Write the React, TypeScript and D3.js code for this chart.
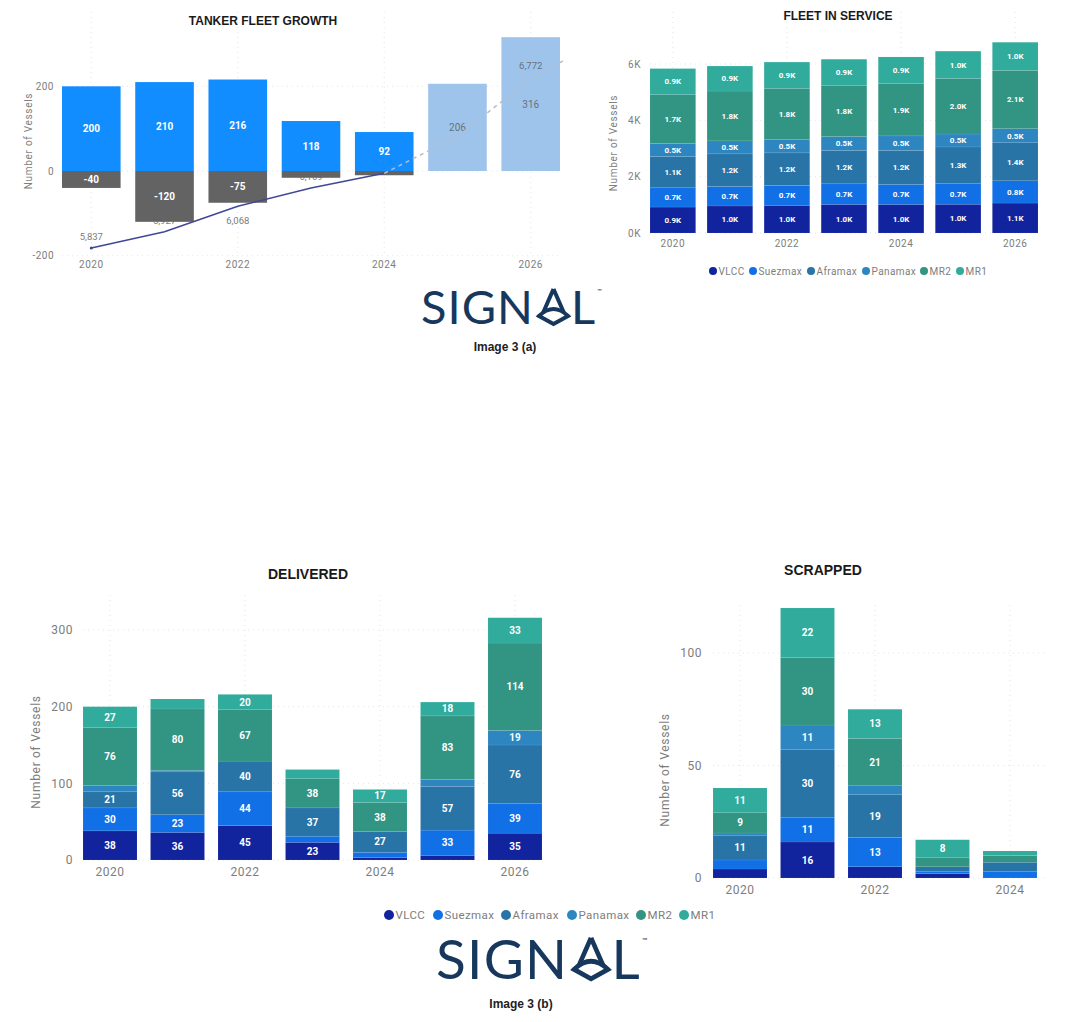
import * as d3 from "d3";
import { useEffect, useRef } from "react";

const years = [2020, 2021, 2022, 2023, 2024, 2025, 2026];
const tickYears = [2020, 2022, 2024, 2026];
const shipTypes = ["VLCC", "Suezmax", "Aframax", "Panamax", "MR2", "MR1"];
const shipColors = ["#12239e", "#1170e6", "#2874a6", "#2e86c1", "#329482", "#30ab9c"];

// tanker fleet growth
const growthDelivered = [200, 210, 216, 118, 92, 206, 316];
const growthScrapped = [-40, -120, -75, -16, -10, 0, 0];
const fleetYears = [2020, 2021, 2022, 2023, 2024, 2025, 2026, 2027];
const fleetTotal = [5837, 5927, 6068, 6169, 6250, 6456, 6772, 7000];

// one row per ship type, one value per year
const fleetVLCC = [921, 960, 980, 1015, 1015, 1020, 1063];
const fleetSuezmax = [685, 690, 708, 732, 708, 745, 791];
const fleetAframax = [1110, 1160, 1157, 1180, 1204, 1290, 1350];
const fleetPanamax = [460, 460, 472, 496, 520, 460, 500];
const fleetMR2 = [1735, 1770, 1818, 1806, 1855, 1970, 2066];
const fleetMR1 = [926, 887, 933, 940, 948, 971, 1002];

const deliveredVLCC = [38, 36, 45, 23, 3, 6, 35];
const deliveredSuezmax = [30, 23, 44, 8, 7, 33, 39];
const deliveredAframax = [21, 56, 40, 37, 27, 57, 76];
const deliveredPanamax = [8, 2, 0, 0, 0, 9, 19];
const deliveredMR2 = [76, 80, 67, 38, 38, 83, 114];
const deliveredMR1 = [27, 13, 20, 12, 17, 18, 33];

const scrappedYears = [2020, 2021, 2022, 2023, 2024];
const scrappedVLCC = [4, 16, 5, 2, 0];
const scrappedSuezmax = [4, 11, 13, 1, 3];
const scrappedAframax = [11, 30, 19, 2, 4];
const scrappedPanamax = [1, 11, 4, 0, 0];
const scrappedMR2 = [9, 30, 21, 4, 3];
const scrappedMR1 = [11, 22, 13, 8, 2];

const AXIS_FONT = "Roboto, sans-serif";
const AXIS_COLOR = "#7d7d7d";
const GRID_COLOR = "#e4e4e4";

type AxesProps = {
  x: d3.ScaleBand<number>;
  y: d3.ScaleLinear<number, number>;
  xTicks: number[];
  yTicks: number[];
  yFormat?: (d: number) => string;
  yAxisX: number;
  xAxisY: number;
  fontSize: number;
  gridTop: number;
  gridBottom: number;
  gridLeft: number;
  gridRight: number;
};

const Axes = ({ x, y, xTicks, yTicks, yFormat, yAxisX, xAxisY, fontSize, gridTop, gridBottom, gridLeft, gridRight }: AxesProps) => {
  const ref = useRef<SVGGElement>(null);
  useEffect(() => {
    const g = d3.select(ref.current);
    g.selectAll("*").remove();

    const bottom = d3.axisBottom(x).tickValues(xTicks).tickSize(0).tickPadding(0).tickFormat((d) => String(d));
    const left = d3.axisLeft(y).tickValues(yTicks).tickSize(0).tickPadding(0).tickFormat((d) => (yFormat ? yFormat(+d) : String(d)));
    g.append("g").attr("transform", `translate(0,${xAxisY})`).call(bottom);
    g.append("g").attr("transform", `translate(${yAxisX},0)`).call(left);

    g.selectAll(".domain").remove();
    g.selectAll("text")
      .attr("fill", AXIS_COLOR)
      .style("font-family", AXIS_FONT)
      .style("font-size", fontSize + "px")
      .style("letter-spacing", "0.5px");
  }, [x, y, xTicks, yTicks, yFormat, yAxisX, xAxisY, fontSize]);

  return (
    <g>
      {xTicks.map((t) => (
        <line key={t} x1={x(t)! + x.bandwidth() / 2} x2={x(t)! + x.bandwidth() / 2} y1={gridTop} y2={gridBottom}
          stroke={GRID_COLOR} strokeDasharray="1 4" />
      ))}
      {yTicks.map((t) => (
        <line key={t} x1={gridLeft} x2={gridRight} y1={y(t)} y2={y(t)} stroke={GRID_COLOR} strokeDasharray="1 4" />
      ))}
      <g ref={ref} />
    </g>
  );
};

type StackProps = {
  title: string;
  titleX: number;
  titleY: number;
  titleSize: number;
  cats: number[];
  rows: number[][];
  xRange: [number, number];
  yRange: [number, number];
  yDomain: [number, number];
  xTicks: number[];
  yTicks: number[];
  yFormat?: (d: number) => string;
  labelFormat?: (d: number) => string;
  labelSize: number;
  axisSize: number;
  yAxisX: number;
  xAxisY: number;
  yTitleX: number;
  yTitleY: number;
  gridTop: number;
  gridRight: number;
};

const StackedChart = (p: StackProps) => {
  const x = d3.scaleBand<number>().domain(p.cats).range(p.xRange).paddingInner(0.2);
  const y = d3.scaleLinear().domain(p.yDomain).range(p.yRange);
  const table = p.cats.map((c, i) => {
    const row: Record<string, number> = { year: c };
    shipTypes.forEach((s, j) => (row[s] = p.rows[j][i]));
    return row;
  });
  const series = d3.stack<Record<string, number>>().keys(shipTypes)(table);
  return (
    <g>
      <text x={p.titleX} y={p.titleY} textAnchor="middle" fontFamily="Liberation Sans" fontWeight="bold" fontSize={p.titleSize} fill="#1a1a1a">
        {p.title}
      </text>
      <Axes x={x} y={y} xTicks={p.xTicks} yTicks={p.yTicks} yFormat={p.yFormat} yAxisX={p.yAxisX} xAxisY={p.xAxisY}
        fontSize={p.axisSize} gridTop={p.gridTop} gridBottom={p.yRange[0]} gridLeft={p.xRange[0]} gridRight={p.gridRight} />
      <text transform={`translate(${p.yTitleX},${p.yTitleY}) rotate(-90)`} textAnchor="middle" fontFamily={AXIS_FONT}
        fontSize={p.axisSize} fill={AXIS_COLOR} letterSpacing={0.7}>
        Number of Vessels
      </text>
      {series.map((s, j) =>
        s.map((d, i) => {
          const h = y(d[0]) - y(d[1]);
          if (h <= 0) return null;
          const year = p.cats[i];
          const value = d[1] - d[0];
          return (
            <g key={year}>
              <rect x={x(year)} y={y(d[1])} width={x.bandwidth()} height={h} fill={shipColors[j]} stroke="#ffffff" strokeOpacity={0.12} strokeWidth={0.6} />
              {h >= 12 && (
                <text x={x(year)! + x.bandwidth() / 2} y={y(d[1]) + h / 2} dy="0.35em" textAnchor="middle"
                  fontFamily={AXIS_FONT} fontWeight={700} fontSize={p.labelSize} fill="#ffffff">
                  {p.labelFormat ? p.labelFormat(value) : value}
                </text>
              )}
            </g>
          );
        })
      )}
    </g>
  );
};

const GrowthChart = () => {
  const x = d3.scaleBand<number>().domain(years).range([62, 560]).paddingInner(0.2);
  const y = d3.scaleLinear().domain([-200, 200]).range([255.7, 86.3]);
  // fleet total sits on its own hidden axis
  const yFleet = d3.scaleLinear().domain([5837, 6772]).range([248, 79]);
  const xFleet = d3.scaleBand<number>().domain(fleetYears).range([62, 560 + x.step()]).paddingInner(0.2);
  const points = fleetYears.map((yr, i) => ({ yr, v: fleetTotal[i] }));
  const line = d3.line<{ yr: number; v: number }>()
    .x((d) => xFleet(d.yr)! + xFleet.bandwidth() / 2)
    .y((d) => yFleet(d.v));
  const solid = points.filter((d) => d.yr <= 2024);
  const dashed = points.filter((d) => d.yr >= 2024);
  const cx = (yr: number) => x(yr)! + x.bandwidth() / 2;
  return (
    <g>
      <text x={263} y={25} textAnchor="middle" fontFamily="Liberation Sans" fontWeight="bold" fontSize={12} fill="#1a1a1a">
        TANKER FLEET GROWTH
      </text>
      <Axes x={x} y={y} xTicks={tickYears} yTicks={[-200, 0, 200]} yAxisX={54} xAxisY={261} fontSize={10}
        gridTop={12} gridBottom={255} gridLeft={62} gridRight={560} />
      <text transform="translate(32,141) rotate(-90)" textAnchor="middle" fontFamily={AXIS_FONT} fontSize={10} fill={AXIS_COLOR} letterSpacing={0.7}>
        Number of Vessels
      </text>

      {/* labels go under the bars, a few of them get covered like in the original */}
      {points.filter((d) => d.yr <= 2024).map((d) => (
        <text key={d.yr} x={cx(d.yr)} y={yFleet(d.v) + (d.yr === 2022 ? 18 : -8)} textAnchor="middle" fontFamily={AXIS_FONT} fontSize={9.5} fill={AXIS_COLOR}>
          {d3.format(",")(d.v)}
        </text>
      ))}

      {years.map((yr, i) => {
        const future = yr > 2024;
        return (
          <g key={yr}>
            <rect x={x(yr)} y={y(growthDelivered[i])} width={x.bandwidth()} height={y(0) - y(growthDelivered[i])}
              fill={future ? "#9fc4ec" : "#0a89ff"} fillOpacity={future ? 1 : 0.97} />
            <text x={cx(yr)} y={(y(growthDelivered[i]) + y(0)) / 2} dy="0.35em" textAnchor="middle" fontFamily={AXIS_FONT}
              fontWeight={future ? 400 : 700} fontSize={10} fill={future ? "#66727f" : "#ffffff"}>
              {growthDelivered[i]}
            </text>
            {growthScrapped[i] < 0 && (
              <rect x={x(yr)} y={y(0)} width={x.bandwidth()} height={y(growthScrapped[i]) - y(0)} fill="#636363" />
            )}
            {growthScrapped[i] <= -40 && (
              <text x={cx(yr)} y={(y(growthScrapped[i]) + y(0)) / 2} dy="0.35em" textAnchor="middle" fontFamily={AXIS_FONT}
                fontWeight={700} fontSize={10} fill="#ffffff">
                {growthScrapped[i]}
              </text>
            )}
          </g>
        );
      })}

      <clipPath id="fleet-clip">
        <rect x={50} y={10} width={513} height={250} />
      </clipPath>
      <g clipPath="url(#fleet-clip)">
        <path d={line(solid) || ""} fill="none" stroke="#3f4796" strokeWidth={1.5} />
        <path d={line(dashed) || ""} fill="none" stroke="#b4bdc9" strokeWidth={1.5} strokeDasharray="4 4" />
      </g>
      <circle cx={cx(2020)} cy={yFleet(5837)} r={1.5} fill="#3f4796" />
      <text x={cx(2026)} y={yFleet(6772) - 10} textAnchor="middle" fontFamily={AXIS_FONT} fontSize={9.5} fill="#66727f">
        {d3.format(",")(6772)}
      </text>
    </g>
  );
};

const Legend = ({ y, offsets, size, r }: { y: number; offsets: number[]; size: number; r: number }) => (
  <g>
    {shipTypes.map((s, i) => (
      <g key={s}>
        <circle cx={offsets[i]} cy={y} r={r} fill={shipColors[i]} />
        <text x={offsets[i] + r + 1.5} y={y} dy="0.35em" fontFamily={AXIS_FONT} fontSize={size} fill={AXIS_COLOR} letterSpacing={0.4}>
          {s}
        </text>
      </g>
    ))}
  </g>
);

const Logo = ({ x, y, k }: { x: number; y: number; k: number }) => (
  <g transform={`translate(${x},${y}) scale(${k})`} fill="#17385c">
    <text x={0} y={34} fontFamily="Lato" fontSize={47} textLength={112} lengthAdjust="spacing">SIGN</text>
    <g fill="none" stroke="#17385c" strokeWidth={4} strokeLinejoin="miter">
      <path d="M132.5 -1 L122 23 M132.5 -1 L143 23" />
      <path d="M118 26 Q132.5 12 147 26 L132.5 34 Z" />
    </g>
    <text x={150} y={34} fontFamily="Lato" fontSize={47}>L</text>
    <text x={176} y={3} fontFamily="Lato" fontSize={6}>™</text>
  </g>
);

export default function App() {
  return (
    <svg width={1080} height={1022} style={{ position: "absolute", left: 0, top: 0, background: "#fff" }}>
      <GrowthChart />
      <StackedChart title="FLEET IN SERVICE" titleX={838} titleY={20} titleSize={12} cats={years}
        rows={[fleetVLCC, fleetSuezmax, fleetAframax, fleetPanamax, fleetMR2, fleetMR1]}
        xRange={[650, 1038]} yRange={[233, 64]} yDomain={[0, 6000]} xTicks={tickYears} yTicks={[0, 2000, 4000, 6000]}
        yFormat={(d) => d / 1000 + "K"} labelFormat={(d) => (d / 1000).toFixed(1) + "K"} labelSize={8} axisSize={10}
        yAxisX={641} xAxisY={240} yTitleX={617} yTitleY={143} gridTop={12} gridRight={1038} />
      <Legend y={271} offsets={[713, 753, 811, 866, 924, 960]} size={10} r={4} />
      <Logo x={421} y={290} k={1} />
      <text x={505} y={351} textAnchor="middle" fontFamily="Liberation Sans" fontWeight="bold" fontSize={12} fill="#222">Image 3 (a)</text>

      <StackedChart title="DELIVERED" titleX={308} titleY={579} titleSize={14} cats={years}
        rows={[deliveredVLCC, deliveredSuezmax, deliveredAframax, deliveredPanamax, deliveredMR2, deliveredMR1]}
        xRange={[83, 542]} yRange={[860, 630]} yDomain={[0, 300]} xTicks={tickYears} yTicks={[0, 100, 200, 300]}
        labelSize={10} axisSize={12} yAxisX={73} xAxisY={867} yTitleX={40} yTitleY={752} gridTop={595} gridRight={542} />
      <StackedChart title="SCRAPPED" titleX={823} titleY={575} titleSize={14} cats={scrappedYears}
        rows={[scrappedVLCC, scrappedSuezmax, scrappedAframax, scrappedPanamax, scrappedMR2, scrappedMR1]}
        xRange={[713, 1037]} yRange={[878, 653]} yDomain={[0, 100]} xTicks={[2020, 2022, 2024]} yTicks={[0, 50, 100]}
        labelSize={10} axisSize={12} yAxisX={702} xAxisY={885} yTitleX={669} yTitleY={770} gridTop={605} gridRight={1048} />
      <Legend y={915} offsets={[389, 438, 506, 572, 641, 684]} size={11.5} r={5} />
      <Logo x={436} y={939} k={1.17} />
      <text x={521} y={1008} textAnchor="middle" fontFamily="Liberation Sans" fontWeight="bold" fontSize={12} fill="#222">Image 3 (b)</text>
    </svg>
  );
}
